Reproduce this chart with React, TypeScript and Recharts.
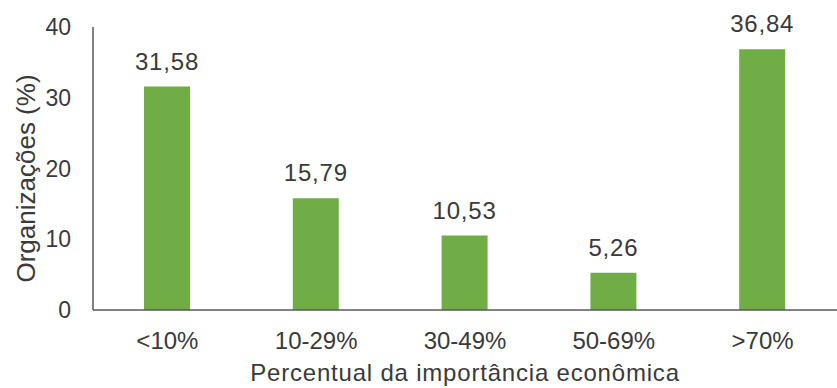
import { BarChart, Bar, XAxis, YAxis, LabelList, Label } from 'recharts';

const categories = ['<10%', '10-29%', '30-49%', '50-69%', '>70%'];
const percentages = [31.58, 15.79, 10.53, 5.26, 36.84];
const yTicks = [0, 10, 20, 30, 40];

const chartData = categories.map((name, i) => ({ name, value: percentages[i] }));

const fmt = (v: any) => Number(v).toFixed(2).replace('.', ',');

const font = '"Liberation Sans", Arial, sans-serif';
const textColor = '#3a3a3a';

export default function App() {
  return (
    <div style={{ position: 'absolute', left: 0, top: 0, width: 837, height: 388, background: '#fff', fontFamily: font }}>
      <BarChart
        width={837}
        height={388}
        data={chartData}
        margin={{ top: 27, right: 0, bottom: 0, left: 0 }}
        barCategoryGap={0}
      >
        <XAxis
          dataKey="name"
          height={78}
          tickLine={false}
          tickSize={0}
          tickMargin={22}
          axisLine={{ stroke: '#595959', strokeWidth: 1.5 }}
          tick={{ fill: textColor, fontSize: 24, fontFamily: font }}
        >
          <Label
            value="Percentual da importância econômica"
            position="insideBottom"
            offset={7}
            style={{ fill: textColor, fontSize: 24, fontFamily: font, letterSpacing: 0.8 }}
          />
        </XAxis>
        <YAxis
          width={93}
          domain={[0, 40]}
          ticks={yTicks}
          tickLine={false}
          tickSize={0}
          tickMargin={22}
          axisLine={{ stroke: '#595959', strokeWidth: 1.5 }}
          tick={{ fill: textColor, fontSize: 23, fontFamily: font }}
        >
          <Label
            value="Organizações (%)"
            angle={-90}
            position="center"
            dx={-21}
            dy={10}
            style={{ fill: textColor, fontSize: 26, fontFamily: font, textAnchor: 'middle' }}
          />
        </YAxis>
        <Bar dataKey="value" fill="#70ad47" barSize={46} isAnimationActive={false}>
          <LabelList
            dataKey="value"
            position="top"
            offset={17}
            formatter={fmt}
            style={{ fill: textColor, fontSize: 24, fontFamily: font, letterSpacing: 0.8 }}
          />
        </Bar>
      </BarChart>
    </div>
  );
}
